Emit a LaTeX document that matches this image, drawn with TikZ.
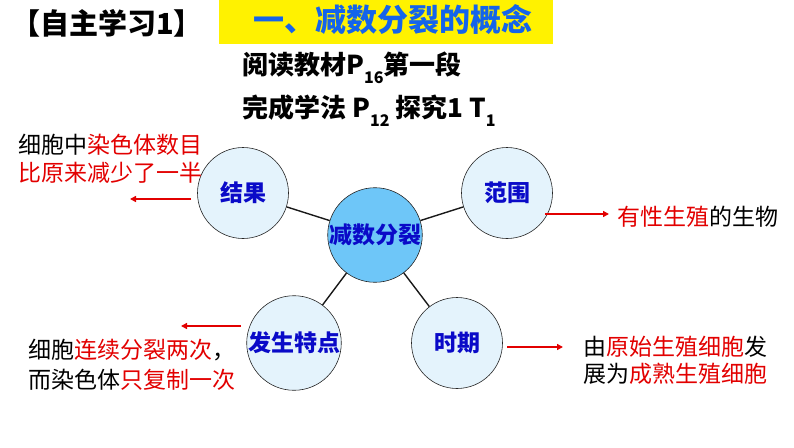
\documentclass[tikz,border=0pt]{standalone}
\usepackage{fontspec}
\setmainfont{Noto Sans CJK SC}
\usetikzlibrary{arrows.meta}
\definecolor{myred}{RGB}{226,0,0}
\definecolor{titleblue}{RGB}{20,100,235}
\definecolor{nodeblue}{RGB}{10,10,200}
\definecolor{cfill}{RGB}{228,243,252}
\definecolor{cmain}{RGB}{110,198,248}
\newcommand\subsc[1]{\raisebox{-0.35em}{\fontsize{16pt}{16pt}\selectfont #1}}
\tikzset{
  bubble/.style={circle,draw=black!85,line width=0.6pt,fill=cfill,minimum size=91pt,inner sep=0pt,
    font=\fontsize{23pt}{23pt}\selectfont\bfseries,text=nodeblue},
  link/.style={draw=black!90,line width=1.4pt},
  redarrow/.style={draw=myred,line width=1.8pt,-{Triangle[length=6pt,width=6pt]}},
  note/.style={anchor=west,inner sep=0pt,align=left},
}
\begin{document}
\begin{tikzpicture}[x=1pt,y=-1pt]
\useasboundingbox (0,0) rectangle (794,447);
% title
\node[anchor=west,inner sep=0pt,font=\fontsize{29pt}{29pt}\selectfont\bfseries] (title) at (11,23) {【自主学习1】};
\fill[yellow] (219,0) rectangle (553,44);
\node[inner sep=0pt,font=\fontsize{31pt}{31pt}\selectfont\bfseries,text=titleblue] (head) at (393,20) {一、减数分裂的概念};
\node[anchor=west,inner sep=0pt,font=\fontsize{26pt}{26pt}\selectfont\bfseries] (read) at (242,68) {阅读教材P\subsc{16}第一段};
\node[anchor=west,inner sep=0pt,font=\fontsize{26pt}{26pt}\selectfont\bfseries] (done) at (242,111) {完成学法 P\subsc{12} 探究1 T\subsc{1}};
% circles
\node[bubble,fill=cmain] (c) at (375,235) {减数分裂};
\node[bubble] (r) at (243,193) {结果};
\node[bubble] (f) at (507,193) {范围};
\node[bubble] (t) at (294,343) {发生特点};
\node[bubble] (s) at (457,343) {时期};
\draw[link] (c) -- (r);
\draw[link] (c) -- (f);
\draw[link] (c) -- (t);
\draw[link] (c) -- (s);
% arrows
\coordinate (a1s) at (191,199); \coordinate (a1e) at (130,199);
\coordinate (a2s) at (545,214); \coordinate (a2e) at (609,214);
\coordinate (a3s) at (241,326); \coordinate (a3e) at (181,326);
\coordinate (a4s) at (507,347); \coordinate (a4e) at (563,347);
\draw[redarrow] (a1s) -- (a1e);
\draw[redarrow] (a2s) -- (a2e);
\draw[redarrow] (a3s) -- (a3e);
\draw[redarrow] (a4s) -- (a4e);
% notes
\node[note,font=\fontsize{23pt}{28pt}\selectfont] (n1) at (18,159) {细胞中\textcolor{myred}{染色体数目}\\\textcolor{myred}{比原来减少了一半}};
\node[note,font=\fontsize{23pt}{28pt}\selectfont] (n2) at (617,217) {\textcolor{myred}{有性生殖}的生物};
\node[note,font=\fontsize{23pt}{30pt}\selectfont] (n3) at (28,365) {细胞\textcolor{myred}{连续分裂两次}，\\而染色体\textcolor{myred}{只复制一次}};
\node[note,font=\fontsize{23pt}{27pt}\selectfont] (n4) at (583,360) {由\textcolor{myred}{原始生殖细胞}发\\展为\textcolor{myred}{成熟生殖细胞}};
\end{tikzpicture}
\end{document}
